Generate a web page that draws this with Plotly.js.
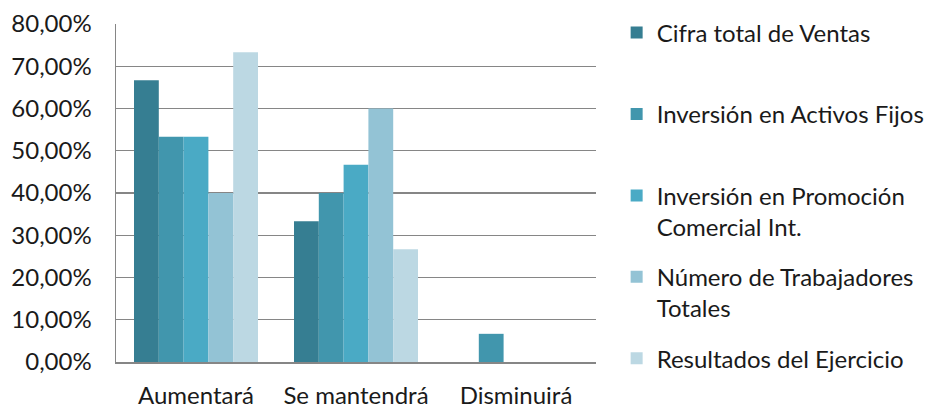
<!DOCTYPE html>
<html><head><meta charset="utf-8">
<script src="https://cdn.plot.ly/plotly-3.0.1.min.js"></script>
<style>html,body{margin:0;padding:0;background:#fff}#c{width:932px;height:408px}</style>
</head><body><div id="c"></div>
<script>
const categories = ["Aumentará", "Se mantendrá", "Disminuirá"];
const seriesNames = [
  "Cifra total de Ventas",
  "Inversión en Activos Fijos",
  "Inversión en Promoción<br>Comercial Int.",
  "Número de Trabajadores<br>Totales",
  "Resultados del Ejercicio"
];
const cifraVentas = [0.6667, 0.3333, 0];
const activosFijos = [0.5333, 0.4000, 0.0667];
const promocionComercial = [0.5333, 0.4667, 0];
const numeroTrabajadores = [0.4000, 0.6000, 0];
const resultadosEjercicio = [0.7333, 0.2667, 0];
const colors = ["#367e92", "#4196ad", "#4aaac5", "#93c3d5", "#bcd8e3"];

const allValues = [cifraVentas, activosFijos, promocionComercial, numeroTrabajadores, resultadosEjercicio];
const font = "Lato, 'Open Sans', sans-serif";
const traces = allValues.map((v, i) => ({
  type: "bar",
  name: seriesNames[i].includes("<br>") ? seriesNames[i] : seriesNames[i] + "<br> ",
  x: categories,
  y: v,
  marker: {color: colors[i], line: {width: 0}},
  legendgroup: "g" + i,
  hoverinfo: "x+y"
}));

const layout = {
  width: 932, height: 408,
  margin: {l: 116, r: 336, t: 24, b: 46, autoexpand: false},
  paper_bgcolor: "#fff", plot_bgcolor: "#fff",
  separators: ",.",
  barmode: "group",
  bargap: 0.225,
  bargroupgap: 0,
  font: {family: font, size: 24, color: "#1a1a1a"},
  xaxis: {
    showline: true, linecolor: "#868686", linewidth: 1.5,
    ticks: "", tickfont: {size: 24}, ticklabelstandoff: 12,
    showgrid: false, zeroline: false, automargin: false
  },
  yaxis: {
    range: [0, 0.8], dtick: 0.1, tickformat: ".2%",
    showline: true, linecolor: "#868686", linewidth: 1.5,
    gridcolor: "#868686", gridwidth: 1.2,
    ticks: "", ticklabelstandoff: 18, zeroline: false,
    tickfont: {size: 24}, automargin: false
  },
  showlegend: true,
  legend: {
    x: 1.043, xanchor: "left", y: 1.04, yanchor: "top",
    traceorder: "grouped", tracegroupgap: 16, valign: "top",
    font: {size: 24, family: font, color: "#1a1a1a"},
    itemwidth: 30, maxheight: 420
  }
};
Plotly.newPlot("c", traces, layout, {displayModeBar: false, staticPlot: true});
</script></body></html>
